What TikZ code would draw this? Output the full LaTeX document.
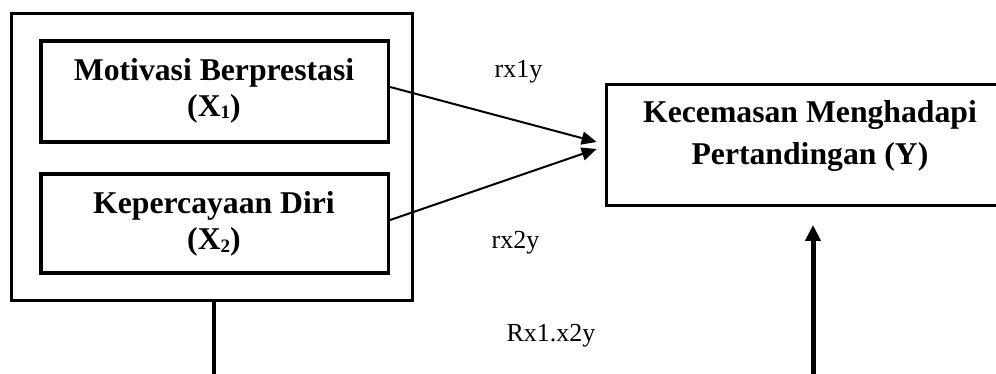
\documentclass[tikz,border=0pt]{standalone}
\usepackage{fontspec}
\setmainfont{Liberation Serif}
\usetikzlibrary{arrows.meta}
\newcommand\subidx[1]{\raisebox{-2pt}{\fontsize{19}{19}\selectfont #1}}
\begin{document}
\begin{tikzpicture}[x=1pt,y=-1pt,
  frame/.style={draw, line width=3.3pt, inner sep=0pt},
  title/.style={font=\fontsize{31.7}{36}\selectfont\bfseries, align=center, anchor=base, inner sep=0pt},
  coef/.style={font=\fontsize{26}{30}\selectfont, anchor=base, inner sep=0pt},
  path arrow/.style={line width=2pt, -{Triangle[length=15pt,width=13pt]}},
  main arrow/.style={line width=5pt, -{Triangle[length=16pt,width=15pt]}}]
\useasboundingbox (0,0) rectangle (996,374);
\clip (0,0) rectangle (996,374);

% outer frame grouping both predictors
\node[frame, minimum width=401pt, minimum height=286.8pt] (grp) at (211.8,157.1) {};
% predictor boxes
\node[frame, minimum width=347.5pt, minimum height=101pt] (x1) at (214.75,91.5) {};
\node[frame, minimum width=347.5pt, minimum height=99pt] (x2) at (214.75,223.5) {};
% criterion box (runs off the right edge)
\node[frame, minimum width=403.7pt, minimum height=121.4pt] (y) at (808.15,145) {};

% box texts (base anchor = baseline of the last line)
\node[title] (x1t) at (214,117) {Motivasi Berprestasi\\(X\subidx{1})};
\node[title] (x2t) at (214,250) {Kepercayaan Diri\\(X\subidx{2})};
\node[title, font=\fontsize{31.7}{42}\selectfont\bfseries] (yt) at (810,165) {Kecemasan Menghadapi\\Pertandingan (Y)};

% partial correlation arrows
\draw[path arrow] ([yshift=4.5pt]x1.east) -- ([xshift=-8pt,yshift=3pt]y.west);
\draw[path arrow] ([yshift=3.5pt]x2.east) -- ([xshift=-8pt,yshift=-4pt]y.west);

% joint correlation line
\coordinate (lb) at (214,374);
\coordinate (rb) at (813,374);
\draw[line width=4pt] (grp.south -| lb) -- (lb);
\draw[main arrow] (rb) -- ([yshift=-17.6pt]y.south -| rb);

% coefficient labels
\node[coef] (r1) at (518.5,78) {rx1y};
\node[coef] (r2) at (515.5,249) {rx2y};
\node[coef] (r12) at (551,341) {Rx1.x2y};
\end{tikzpicture}
\end{document}
